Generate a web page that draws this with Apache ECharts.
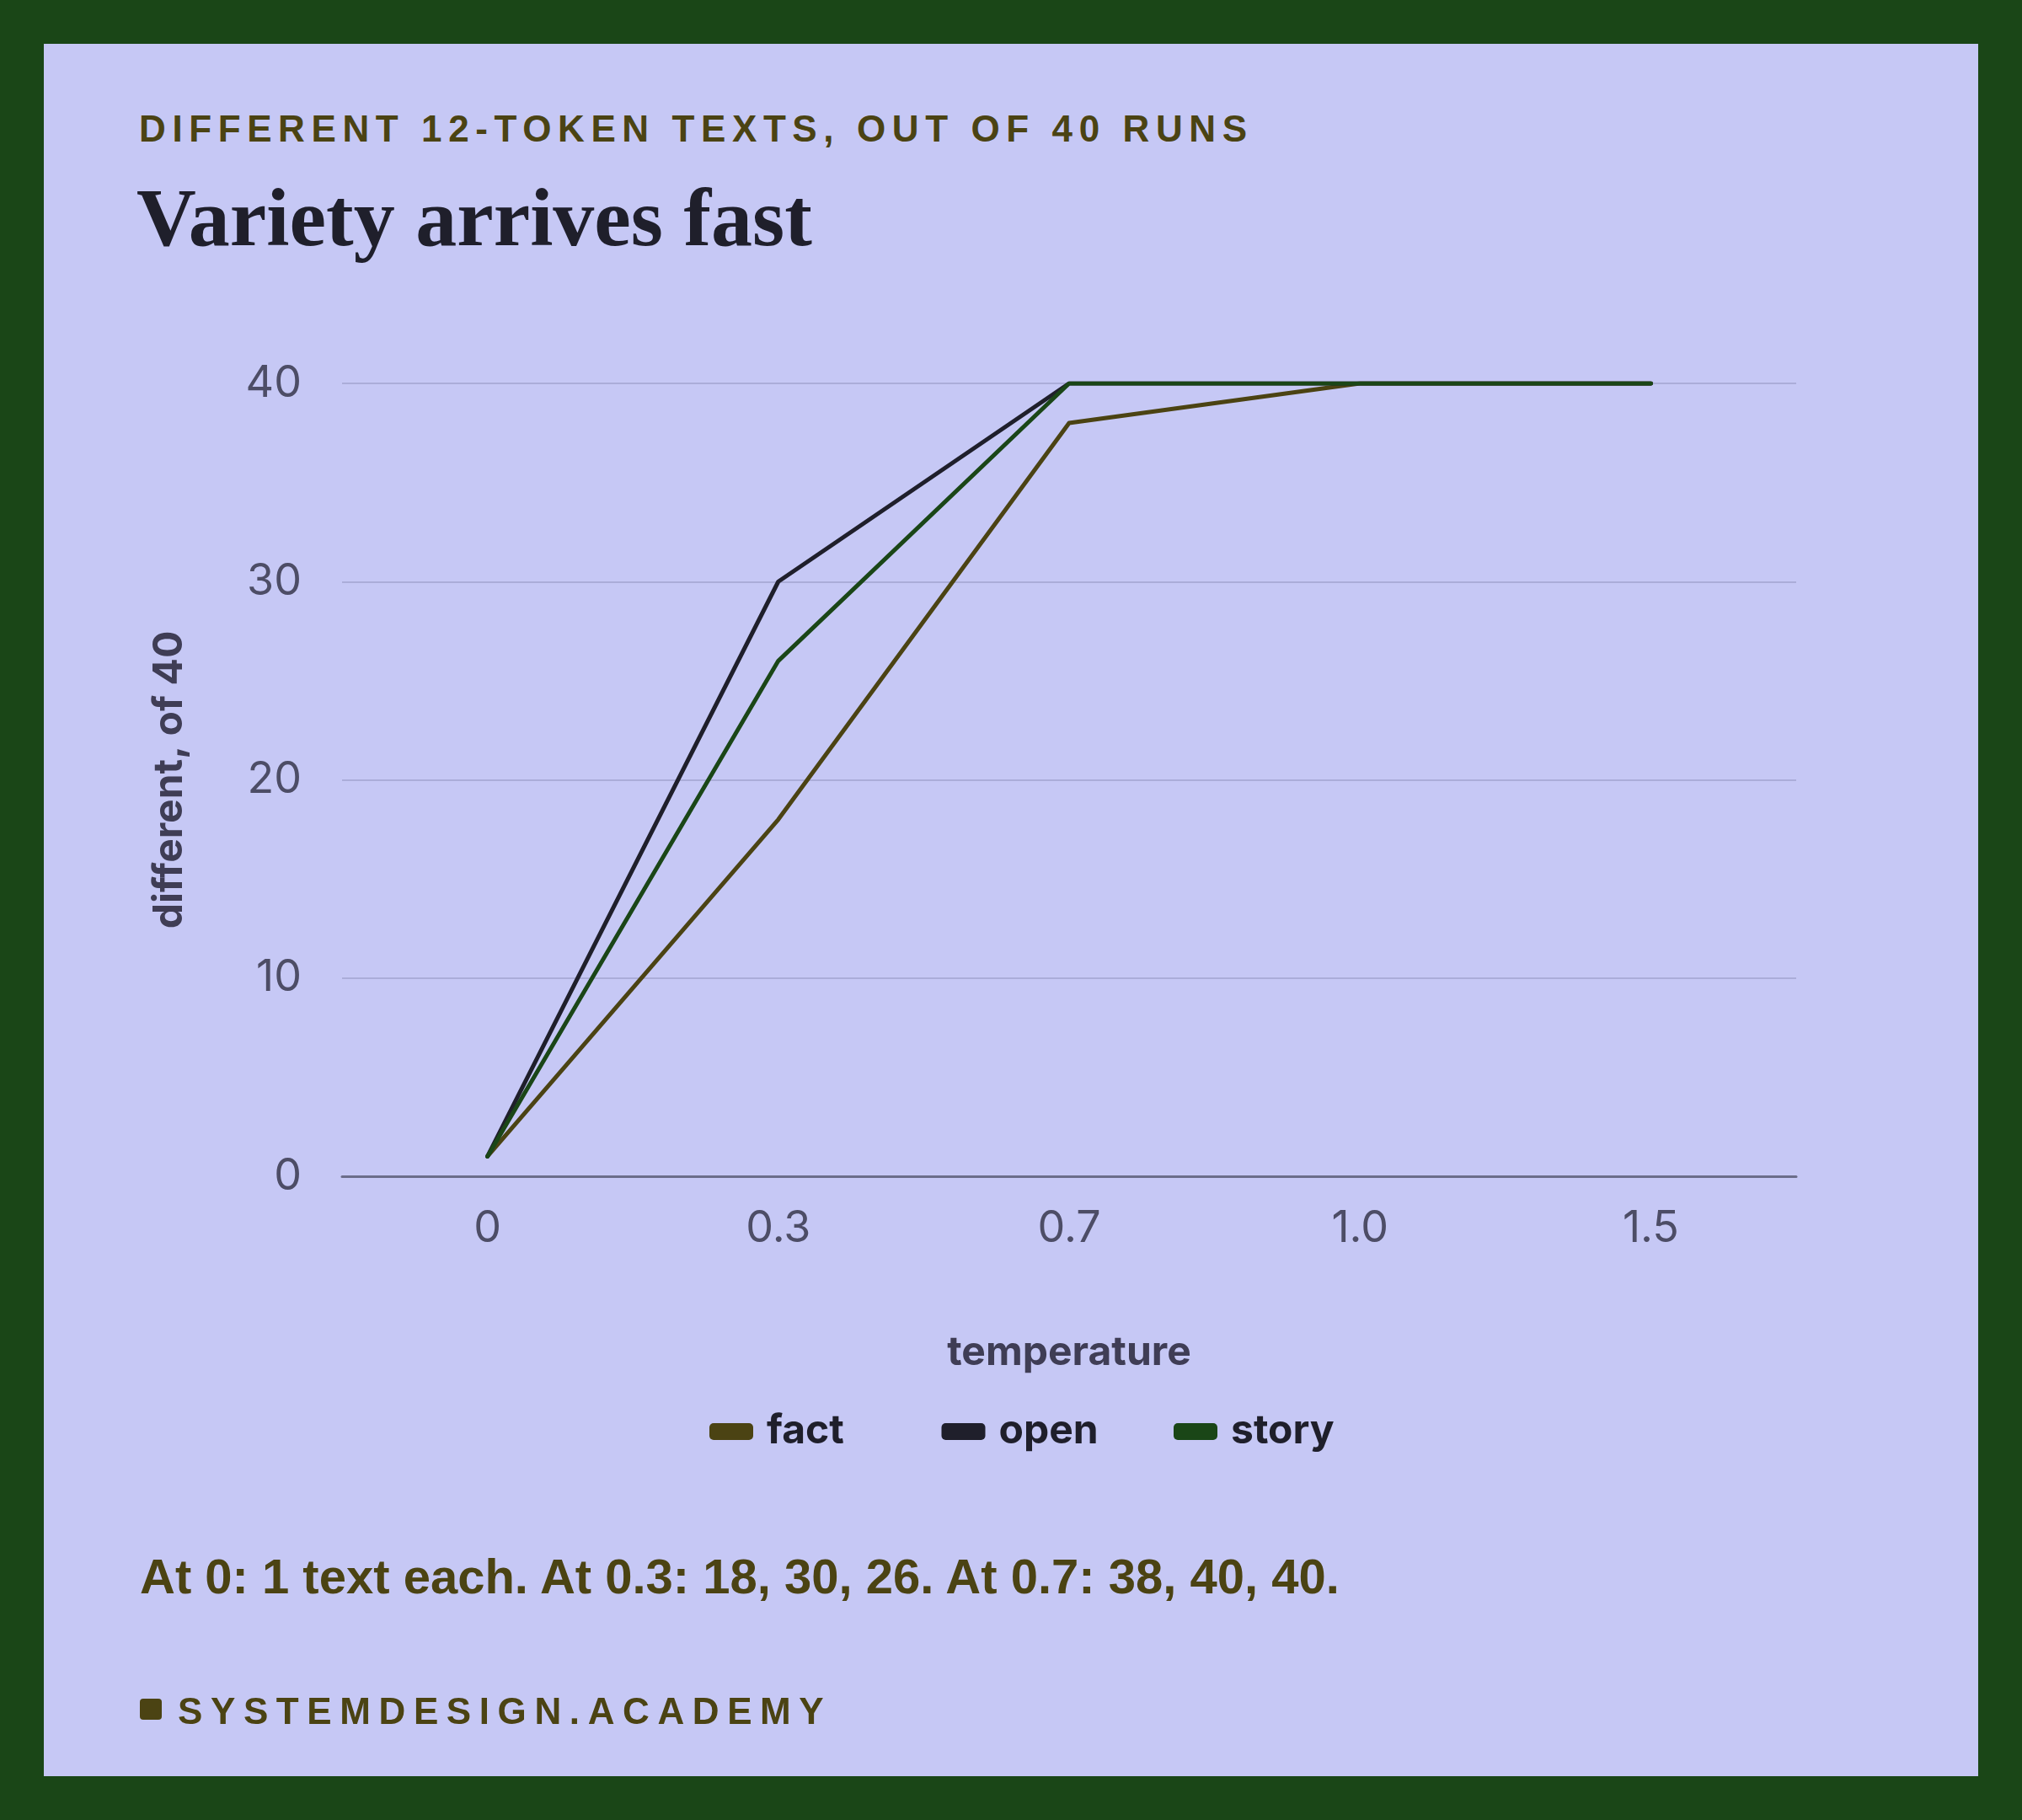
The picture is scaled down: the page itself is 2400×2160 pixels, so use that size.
<!DOCTYPE html>
<html>
<head>
<meta charset="utf-8">
<script src="https://cdn.jsdelivr.net/npm/echarts@6/dist/echarts.min.js"></script>
<style>
  html, body { margin: 0; padding: 0; }
  body { width: 2400px; height: 2160px; background: #1a4617; position: relative; overflow: hidden; }
  #panel { position: absolute; left: 52px; top: 52px; width: 2296px; height: 2056px; background: #c6c8f5; }
  #chart { position: absolute; left: 0; top: 0; width: 2400px; height: 2160px; }
  .t { position: absolute; white-space: nowrap; line-height: 1; }
  #kicker { left: 165px; top: 128px; font: bold 44px "Liberation Sans", Arial, sans-serif; letter-spacing: 7.6px; color: #4b4313; }
  #title { left: 162px; top: 202px; font: bold 98px "Liberation Serif", serif; color: #1f1f2b; }
  #note { left: 166px; top: 1837px; font: bold 58px "Liberation Sans", Arial, sans-serif; color: #4b4313; }
  #mark { position: absolute; left: 166px; top: 2016px; width: 26px; height: 25px; border-radius: 4px; background: #4b4313; }
  #brand { left: 211px; top: 2006px; font: bold 44px "Liberation Sans", Arial, sans-serif; letter-spacing: 9.6px; color: #4b4313; }
</style>
</head>
<body>
<div id="panel"></div>
<div class="t" id="kicker">DIFFERENT 12-TOKEN TEXTS, OUT OF 40 RUNS</div>
<div class="t" id="title">Variety arrives fast</div>
<div id="chart"></div>
<div class="t" id="note">At 0: 1 text each. At 0.3: 18, 30, 26. At 0.7: 38, 40, 40.</div>
<div id="mark"></div>
<div class="t" id="brand">SYSTEMDESIGN.ACADEMY</div>
<script>
const temperatures = ['0', '0.3', '0.7', '1.0', '1.5'];
const seriesNames = ['fact', 'open', 'story'];
const factValues = [1, 18, 38, 40, 40];
const openValues = [1, 30, 40, 40, 40];
const storyValues = [1, 26, 40, 40, 40];
const seriesColors = ['#4b4313', '#1f1f2b', '#1a4617'];

const chart = echarts.init(document.getElementById('chart'), null, { renderer: 'canvas' });
const valueSets = [factValues, openValues, storyValues];

const legendStart = 837;
const legendStep = 275.5;

chart.setOption({
  backgroundColor: 'transparent',
  animation: false,
  textStyle: { fontFamily: 'Inter' },
  grid: { left: 406, right: 268, top: 455, bottom: 764 },
  legend: seriesNames.map((name, i) => ({
    top: 1670,
    left: legendStart + i * legendStep,
    icon: 'roundRect',
    itemWidth: 52,
    itemHeight: 20,
    data: [name],
    textStyle: { fontFamily: 'Inter', fontSize: 48, fontWeight: 'bold', color: '#1f1f2b', padding: [0, 0, 0, 11] }
  })),
  xAxis: {
    type: 'category',
    data: temperatures,
    boundaryGap: true,
    name: 'temperature',
    nameLocation: 'middle',
    nameGap: 186,
    nameTextStyle: { fontFamily: 'Inter', fontSize: 48, fontWeight: 'bold', color: '#3f3d55' },
    axisLine: { lineStyle: { color: '#6b6d8a', width: 3 } },
    axisTick: { alignWithLabel: true, length: 17, lineStyle: { color: '#6b6d8a', width: 3 } },
    axisLabel: { fontFamily: 'Inter', fontSize: 52, color: '#4d4d66', margin: 36 }
  },
  yAxis: {
    type: 'value',
    min: 0,
    max: 40,
    interval: 10,
    name: 'different, of 40',
    nameLocation: 'middle',
    nameGap: 180,
    nameTextStyle: { fontFamily: 'Inter', fontSize: 48, fontWeight: 'bold', color: '#3f3d55' },
    axisLine: { show: false },
    axisTick: { show: false },
    axisLabel: { fontFamily: 'Inter', fontSize: 52, color: '#4d4d66', margin: 48 },
    splitLine: { lineStyle: { color: '#abadd9', width: 2 } }
  },
  series: seriesNames.map((name, i) => ({
    name: name,
    type: 'line',
    data: valueSets[i],
    showSymbol: false,
    symbol: 'none',
    itemStyle: { color: seriesColors[i] },
    lineStyle: { color: seriesColors[i], width: 5, cap: 'round', join: 'round' }
  }))
});
</script>
</body>
</html>
